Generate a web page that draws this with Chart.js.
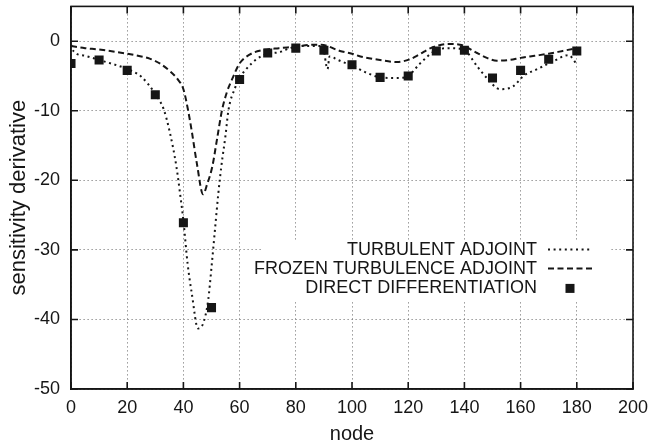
<!DOCTYPE html>
<html>
<head>
<meta charset="utf-8">
<script src="https://cdn.jsdelivr.net/npm/chart.js@4/dist/chart.umd.min.js"></script>
<style>
  html, body { margin: 0; padding: 0; background: #fff; }
  #wrap { width: 653px; height: 447px; }
</style>
</head>
<body>
<div id="wrap"><canvas id="sensChart" width="653" height="447"></canvas></div>
<script>
// turbulent adjoint (dotted curve)
const turbNodes = [0, 1, 5, 10, 15, 20, 25, 30, 33, 35, 37.5, 39, 40, 41.5, 43, 45.2, 47, 48.8, 50, 51.3, 52.4, 53.5, 55, 56, 58.4, 60, 62.6, 66, 70, 74, 78, 81.5, 87.5, 89.5, 91.3, 92, 95, 98, 100, 105, 110, 116, 120, 124, 129.5, 135, 140, 144.5, 148, 152.7, 157.3, 161, 166, 171.6, 177, 180];
const turbValues = [-0.5, -1.5, -2.1, -2.7, -3.3, -4.0, -5.1, -7.6, -9.8, -12.8, -18, -22.5, -25.8, -32, -36.3, -41.3, -40.6, -37.3, -32.5, -26.8, -22, -18, -13.5, -10, -6.7, -5.3, -3.9, -2.6, -1.8, -1.6, -1.0, -0.7, -0.7, -0.7, -4.0, -2.2, -2.7, -3.2, -3.5, -4.5, -5.2, -5.3, -5.0, -3.3, -1.4, -1.0, -1.3, -3.6, -5.3, -6.9, -6.5, -5.0, -4.0, -2.9, -2.0, -3.3];

// frozen turbulence adjoint (dashed curve)
const frozenNodes = [0, 5, 10, 20, 25, 28, 32, 35.2, 38, 40, 41.7, 43, 44.8, 47, 48.5, 50.3, 52, 53.7, 55.5, 57.3, 60, 63.7, 68, 74, 80, 86, 89, 95.7, 100, 103, 110, 116, 120.6, 124, 128, 134, 138.4, 144.5, 148, 151.6, 156, 160, 165, 170, 175, 180];
const frozenValues = [-0.7, -1.0, -1.2, -1.8, -2.2, -2.5, -3.3, -4.3, -5.5, -6.9, -10, -13, -17.6, -22.0, -20.5, -18, -14, -10, -7.3, -5.5, -3.2, -1.9, -1.3, -1.0, -0.8, -0.5, -0.5, -1.4, -1.8, -2.2, -2.7, -3.0, -2.6, -1.9, -1.0, -0.4, -0.5, -1.7, -2.4, -2.8, -2.7, -2.4, -2.1, -1.8, -1.4, -1.0];

// direct differentiation (squares)
const directNodes = [0, 10, 20, 30, 40, 50, 60, 70, 80, 90, 100, 110, 120, 130, 140, 150, 160, 170, 180];
const directValues = [-3.2, -2.7, -4.2, -7.7, -26.1, -38.3, -5.5, -1.7, -1.0, -1.3, -3.4, -5.2, -5.0, -1.4, -1.3, -5.3, -4.2, -2.6, -1.4];

const seriesLabels = ['TURBULENT ADJOINT', 'FROZEN TURBULENCE ADJOINT', 'DIRECT DIFFERENTIATION'];

const xTicks = [0, 20, 40, 60, 80, 100, 120, 140, 160, 180, 200];
const yTicks = [-50, -40, -30, -20, -10, 0];

const INK = '#161616';
const FONT = "'Liberation Sans', Arial, Helvetica, sans-serif";
const DOT = [2, 3.6];
const DASH = [6, 3.5];

function toPoints(xs, ys) {
  return xs.map((x, i) => ({ x: x, y: ys[i] }));
}

// frame plus inward tick marks on all four sides
const framePlugin = {
  id: 'frame',
  afterDraw(chart) {
    const { ctx, chartArea: a, scales } = chart;
    ctx.save();
    ctx.strokeStyle = INK;
    ctx.lineWidth = 1.6;
    ctx.strokeRect(a.left, a.top, a.right - a.left, a.bottom - a.top);
    ctx.beginPath();
    xTicks.forEach(v => {
      const px = scales.x.getPixelForValue(v);
      ctx.moveTo(px, a.bottom); ctx.lineTo(px, a.bottom - 7);
      ctx.moveTo(px, a.top); ctx.lineTo(px, a.top + 7);
    });
    yTicks.forEach(v => {
      const py = scales.y.getPixelForValue(v);
      ctx.moveTo(a.left, py); ctx.lineTo(a.left + 7, py);
      ctx.moveTo(a.right, py); ctx.lineTo(a.right - 7, py);
    });
    ctx.stroke();
    ctx.restore();
  }
};

// gnuplot style key: right aligned text, sample to the right
const keyPlugin = {
  id: 'key',
  afterDatasetsDraw(chart) {
    const { ctx, chartArea: a } = chart;
    const textRight = a.left + 466;
    const sampleL = textRight + 11;
    const sampleR = textRight + 55;
    const rows = [a.top + 243, a.top + 262, a.top + 281];

    ctx.save();
    ctx.fillStyle = '#fff';
    ctx.fillRect(a.left + 192, a.top + 235, 347, 60);

    ctx.font = '18px ' + FONT;
    ctx.fillStyle = INK;
    ctx.textAlign = 'right';
    ctx.textBaseline = 'middle';
    seriesLabels.forEach((t, i) => ctx.fillText(t, textRight, rows[i] + 1));

    ctx.strokeStyle = INK;
    ctx.lineWidth = 2;
    ctx.setLineDash(DOT);
    ctx.beginPath(); ctx.moveTo(sampleL, rows[0]); ctx.lineTo(sampleR, rows[0]); ctx.stroke();
    ctx.setLineDash(DASH);
    ctx.beginPath(); ctx.moveTo(sampleL, rows[1]); ctx.lineTo(sampleR, rows[1]); ctx.stroke();
    ctx.setLineDash([]);
    const mid = (sampleL + sampleR) / 2;
    ctx.fillRect(mid - 4.5, rows[2] + 1 - 4.5, 9, 9);
    ctx.restore();
  }
};

new Chart(document.getElementById('sensChart'), {
  type: 'scatter',
  data: {
    datasets: [
      {
        label: seriesLabels[0],
        data: toPoints(turbNodes, turbValues),
        showLine: true,
        borderColor: INK,
        borderWidth: 2,
        borderDash: DOT,
        pointRadius: 0,
        cubicInterpolationMode: 'monotone'
      },
      {
        label: seriesLabels[1],
        data: toPoints(frozenNodes, frozenValues),
        showLine: true,
        borderColor: INK,
        borderWidth: 2,
        borderDash: DASH,
        pointRadius: 0,
        cubicInterpolationMode: 'monotone'
      },
      {
        label: seriesLabels[2],
        data: toPoints(directNodes, directValues),
        showLine: false,
        pointStyle: 'rect',
        pointRadius: 6.4,
        pointBackgroundColor: INK,
        pointBorderColor: INK,
        pointBorderWidth: 0
      }
    ]
  },
  options: {
    responsive: false,
    animation: false,
    layout: { padding: { top: 5, right: 20, left: 0, bottom: 0 } },
    plugins: {
      legend: { display: false },
      tooltip: { enabled: false }
    },
    scales: {
      x: {
        type: 'linear',
        min: 0,
        max: 200,
        afterBuildTicks: s => { s.ticks = xTicks.map(v => ({ value: v })); },
        afterFit: s => { s.height = 58; s.paddingLeft = 0; s.paddingRight = 0; },
        ticks: { color: INK, font: { family: FONT, size: 18 }, padding: 8 },
        grid: { color: '#666', lineWidth: 1, drawTicks: false },
        border: { display: true, color: INK, width: 1.6, dash: [1, 3] },
        title: { display: true, text: 'node', color: INK, font: { family: FONT, size: 20 }, padding: { top: 0, bottom: 1 } }
      },
      y: {
        type: 'linear',
        min: -50,
        max: 5,
        afterBuildTicks: s => { s.ticks = yTicks.map(v => ({ value: v })); },
        afterFit: s => { s.width = 71; s.paddingTop = 0; s.paddingBottom = 0; },
        ticks: { color: INK, font: { family: FONT, size: 18 }, padding: 11 },
        grid: { color: '#666', lineWidth: 1, drawTicks: false },
        border: { display: true, color: INK, width: 1.6, dash: [1, 3] },
        title: { display: true, text: 'sensitivity derivative', color: INK, font: { family: FONT, size: 22 }, padding: { top: 6, bottom: 0 } }
      }
    }
  },
  plugins: [framePlugin, keyPlugin]
});
</script>
</body>
</html>
